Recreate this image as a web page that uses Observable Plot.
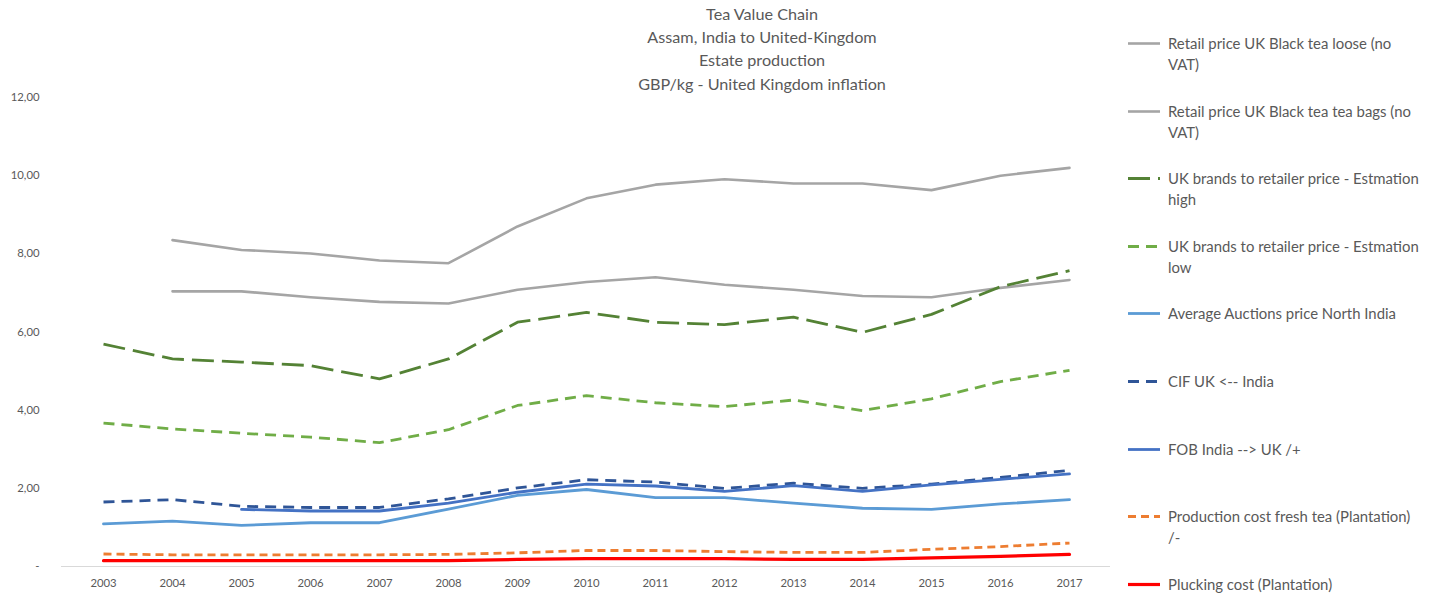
<!DOCTYPE html>
<html><head><meta charset="utf-8">
<script src="https://cdn.jsdelivr.net/npm/d3@7"></script>
<script src="https://cdn.jsdelivr.net/npm/@observablehq/plot@0.6"></script>
<style>
body{margin:0;background:#fff;font-family:Lato,"Open Sans",sans-serif;}
#wrap{position:relative;width:1442px;height:594px;overflow:hidden;}
#chart{position:absolute;left:0;top:0;}
#title{position:absolute;left:512px;width:500px;top:2px;text-align:center;color:#595959;font-size:16.2px;line-height:23.2px;}
.item{position:absolute;left:1127px;}
.item svg{position:absolute;left:0;top:0;}
.item .lab{position:absolute;left:41px;top:0;white-space:pre;color:#595959;font-size:14.9px;line-height:21px;}
</style></head>
<body>
<div id="wrap">
  <div id="chart"></div>
  <div id="title">Tea Value Chain<br>Assam, India to United-Kingdom<br>Estate production<br>GBP/kg - United Kingdom inflation</div>
  <div id="legend"></div>
</div>
<script>
const years = [2003,2004,2005,2006,2007,2008,2009,2010,2011,2012,2013,2014,2015,2016,2017];
const yTicks = [0,2,4,6,8,10,12];

const retailLoose = [null, 8.35, 8.10, 8.01, 7.83, 7.76, 8.70, 9.42, 9.77, 9.91, 9.80, 9.80, 9.63, 10.00, 10.20];
const retailBags  = [null, 7.04, 7.04, 6.89, 6.77, 6.73, 7.08, 7.28, 7.40, 7.21, 7.08, 6.92, 6.89, 7.13, 7.33];
const brandsHigh  = [5.69, 5.31, 5.23, 5.14, 4.80, 5.31, 6.25, 6.50, 6.25, 6.19, 6.38, 5.99, 6.45, 7.16, 7.57];
const brandsLow   = [3.67, 3.52, 3.41, 3.31, 3.17, 3.50, 4.12, 4.37, 4.19, 4.09, 4.26, 3.99, 4.29, 4.73, 5.02];
const auctions    = [1.09, 1.16, 1.05, 1.12, 1.12, 1.47, 1.82, 1.97, 1.76, 1.76, 1.62, 1.49, 1.46, 1.60, 1.71];
const cifUK       = [1.65, 1.71, 1.54, 1.51, 1.51, 1.73, 2.01, 2.22, 2.16, 2.00, 2.13, 2.00, 2.11, 2.28, 2.46];
const fobIndia    = [null, null, 1.46, 1.42, 1.42, 1.62, 1.90, 2.11, 2.06, 1.92, 2.07, 1.92, 2.09, 2.23, 2.37];
const prodCost    = [0.32, 0.30, 0.30, 0.30, 0.30, 0.31, 0.35, 0.41, 0.41, 0.38, 0.36, 0.36, 0.44, 0.51, 0.60];
const plucking    = [0.15, 0.15, 0.15, 0.15, 0.15, 0.15, 0.18, 0.20, 0.20, 0.20, 0.18, 0.18, 0.22, 0.26, 0.31];

const seriesNames = [
  "Retail price UK Black tea loose (no\nVAT)",
  "Retail price UK Black tea tea bags (no\nVAT)",
  "UK brands to retailer price - Estmation\nhigh",
  "UK brands to retailer price - Estmation\nlow",
  "Average Auctions price North India",
  "CIF UK <-- India",
  "FOB India --> UK /+",
  "Production cost fresh tea (Plantation)\n/-",
  "Plucking cost (Plantation)"
];
const seriesValues = [retailLoose, retailBags, brandsHigh, brandsLow, auctions, cifUK, fobIndia, prodCost, plucking];

// styles
const colors = ["#A5A5A5","#A5A5A5","#548235","#70AD47","#5B9BD5","#2F5597","#4472C4","#ED7D31","#FF0000"];
const dashes = [null,null,"22,8","11,7",null,"11,7",null,"8,5",null];
const widths = [2.6,2.6,2.8,2.8,2.8,2.8,2.8,2.8,3.2];

const rows = [];
seriesValues.forEach((vals,i)=>vals.forEach((v,j)=>rows.push({series:i, year:years[j], value:v})));

const fmt = d => d === 0 ? "-" : d.toFixed(2).replace(".", ",");

const drawOrder = [0,1,2,3,4,5,6,7,8];
const marks = [
  Plot.ruleY([0], {stroke:"#D9D9D9", strokeWidth:1.2}),
  Plot.axisY({ticks:yTicks, tickFormat:fmt, tickSize:0, tickPadding:22, fontSize:11.3, color:"#595959", label:null}),
  Plot.axisX({tickSize:0, tickPadding:12, fontSize:11.3, color:"#595959", label:null, tickFormat:d=>String(d)}),
  ...drawOrder.map(i => Plot.lineY(rows.filter(r=>r.series===i), {
    x:"year", y:"value", stroke:colors[i], strokeWidth:widths[i],
    strokeDasharray: dashes[i] || undefined, strokeLinecap: dashes[i] ? "butt" : "round", strokeLinejoin:"round"
  }))
];

const chart = Plot.plot({
  width:1120, height:594,
  marginTop:97, marginBottom:28, marginLeft:61, marginRight:10,
  style:{fontFamily:"Lato, 'Open Sans', sans-serif", background:"transparent", overflow:"visible"},
  x:{type:"point", domain:years, padding:0.5},
  y:{domain:[0,12]},
  marks
});
document.getElementById("chart").appendChild(chart);

const legend = d3.select("#legend");
seriesNames.forEach((name,i)=>{
  const item = legend.append("div").attr("class","item").style("top",(33 + 67.6*i)+"px");
  const svg = item.append("svg").attr("width",36).attr("height",21);
  svg.append("line").attr("x1",1).attr("x2",33).attr("y1",10.5).attr("y2",10.5)
    .attr("stroke",colors[i]).attr("stroke-width",widths[i])
    .attr("stroke-dasharray",dashes[i]).attr("stroke-linecap","butt");
  item.append("div").attr("class","lab").text(name);
});
</script>
</body></html>
